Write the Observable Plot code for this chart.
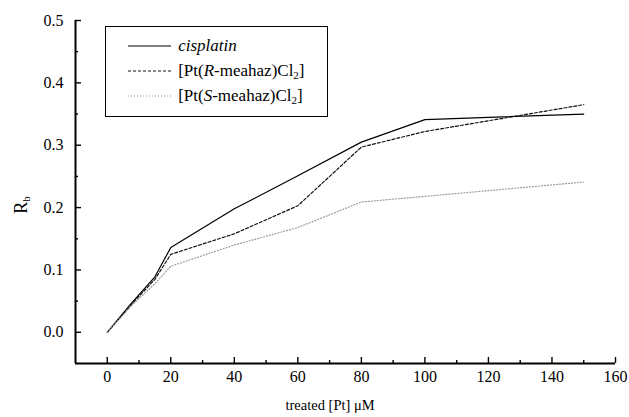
<!DOCTYPE html>
<html>
<head>
<meta charset="utf-8">
<script src="https://cdn.jsdelivr.net/npm/d3@7"></script>
<script src="https://cdn.jsdelivr.net/npm/@observablehq/plot@0.6"></script>
<style>
  html, body { margin: 0; padding: 0; background: #fff; }
  #wrap { position: relative; width: 629px; height: 417px; font-family: "Liberation Serif", "DejaVu Serif", serif; }
  #wrap svg, #wrap svg text { font-family: "Liberation Serif", serif !important; }
  #legend { position: absolute; border: 1.5px solid #000; background: #fff; box-sizing: border-box; }
  .row { position: absolute; left: 0; display: flex; align-items: center; font-size: 17px; color: #000; }
  .row svg { margin-right: 7px; }
  sub { font-size: 11px; vertical-align: -3px; line-height: 0; }
  .lab { position: absolute; font-size: 17px; white-space: nowrap; color: #000; line-height: 1; }
  #ylab { transform: rotate(-90deg); transform-origin: center; }
</style>
</head>
<body>
<div id="wrap"></div>
<script>
const doses = [0, 7.5, 15, 20, 40, 60, 80, 100, 150];
const cisplatin = [0, 0.046, 0.089, 0.136, 0.198, 0.251, 0.305, 0.341, 0.350];
const rMeahaz  = [0, 0.044, 0.085, 0.125, 0.158, 0.203, 0.297, 0.322, 0.365];
const sMeahaz  = [0, 0.042, 0.078, 0.106, 0.140, 0.168, 0.209, 0.218, 0.241];
const seriesNames = ["cisplatin", "R", "S"];
const xMajor = [0, 20, 40, 60, 80, 100, 120, 140, 160];
const xMinor = [10, 30, 50, 70, 90, 110, 130, 150];
const yMajor = [0, 0.1, 0.2, 0.3, 0.4, 0.5];
const yMinor = [0.05, 0.15, 0.25, 0.35, 0.45];

const styles = {
  cisplatin: {stroke: "#000", strokeWidth: 1.2, dash: null},
  R: {stroke: "#111", strokeWidth: 1.2, dash: "3,2"},
  S: {stroke: "#999", strokeWidth: 1.2, dash: "1,2"}
};
const valuesBy = {cisplatin, R: rMeahaz, S: sMeahaz};

const lines = seriesNames.map(name => {
  const st = styles[name];
  const data = doses.map((d, i) => ({x: d, y: valuesBy[name][i]}));
  return Plot.line(data, {x: "x", y: "y", stroke: st.stroke, strokeWidth: st.strokeWidth, strokeDasharray: st.dash});
});

const plot = Plot.plot({
  width: 629,
  height: 417,
  marginLeft: 75,
  marginRight: 14,
  marginTop: 20,
  marginBottom: 54,
  style: {fontFamily: "'Liberation Serif', serif", fontSize: "16px", color: "#000", background: "#fff"},
  x: {domain: [-10, 160]},
  y: {domain: [-0.05, 0.5]},
  marks: [
    // tick labels
    Plot.axisX({ticks: xMajor, tickSize: 0, tickPadding: 7, tickFormat: d3.format("d"), fontSize: 16, label: null}),
    Plot.axisY({ticks: yMajor, tickSize: 0, tickPadding: 12, tickFormat: d3.format(".1f"), fontSize: 16, label: null}),
    // inward ticks
    Plot.axisX({ticks: xMajor, tickSize: 6, dy: -6, tickFormat: () => "", label: null, strokeWidth: 1.4}),
    Plot.axisX({ticks: xMinor, tickSize: 3, dy: -3, tickFormat: () => "", label: null, strokeWidth: 1.4}),
    Plot.axisY({ticks: yMajor, tickSize: 6, dx: 6, tickFormat: () => "", label: null, strokeWidth: 1.4}),
    Plot.axisY({ticks: yMinor, tickSize: 3, dx: 3, tickFormat: () => "", label: null, strokeWidth: 1.4}),
    Plot.ruleX([-10], {strokeWidth: 2}),
    Plot.ruleY([-0.05], {strokeWidth: 2}),
    ...lines
  ]
});

const wrap = document.getElementById("wrap");
wrap.appendChild(plot);

// Legend positioned via the plot's scales
const xs = plot.scale("x"), ys = plot.scale("y");
const legendBox = {x1: -0.5, x2: 69.5, y1: 0.49, y2: 0.3445};
const lx1 = xs.apply(legendBox.x1);
const lx2 = xs.apply(legendBox.x2);
const ly1 = ys.apply(legendBox.y1);
const ly2 = ys.apply(legendBox.y2);
const legend = document.createElement("div");
legend.id = "legend";
legend.style.left = lx1 + "px";
legend.style.top = ly1 + "px";
legend.style.width = (lx2 - lx1) + "px";
legend.style.height = (ly2 - ly1) + "px";
const labels = {
  cisplatin: "<i>cisplatin</i>",
  R: "[Pt(<i>R</i>-meahaz)Cl<sub>2</sub>]",
  S: "[Pt(<i>S</i>-meahaz)Cl<sub>2</sub>]"
};
seriesNames.forEach((name, i) => {
  const st = styles[name];
  const row = document.createElement("div");
  row.className = "row";
  row.style.top = (8 + i * 25) + "px";
  row.style.left = "22px";
  row.style.height = "22px";
  row.innerHTML = `<svg width="43" height="6"><line x1="0" x2="43" y1="3" y2="3" stroke="${st.stroke}" stroke-width="${st.strokeWidth}" ${st.dash ? `stroke-dasharray="${st.dash}"` : ""}/></svg><span>${labels[name]}</span>`;
  legend.appendChild(row);
});
wrap.appendChild(legend);

function placeLabel(id, html, cx, cy, size) {
  const el = document.createElement("div");
  el.id = id;
  el.className = "lab";
  el.style.fontSize = size + "px";
  el.innerHTML = html;
  wrap.appendChild(el);
  const w = el.offsetWidth, h = el.offsetHeight;
  el.style.left = (cx - w / 2) + "px";
  el.style.top = (cy - h / 2) + "px";
}
placeLabel("ylab", "R<sub>b</sub>", 21, 205, 18);
placeLabel("xlab", "treated [Pt] μM", 330, 405, 14.5);
</script>
</body>
</html>
